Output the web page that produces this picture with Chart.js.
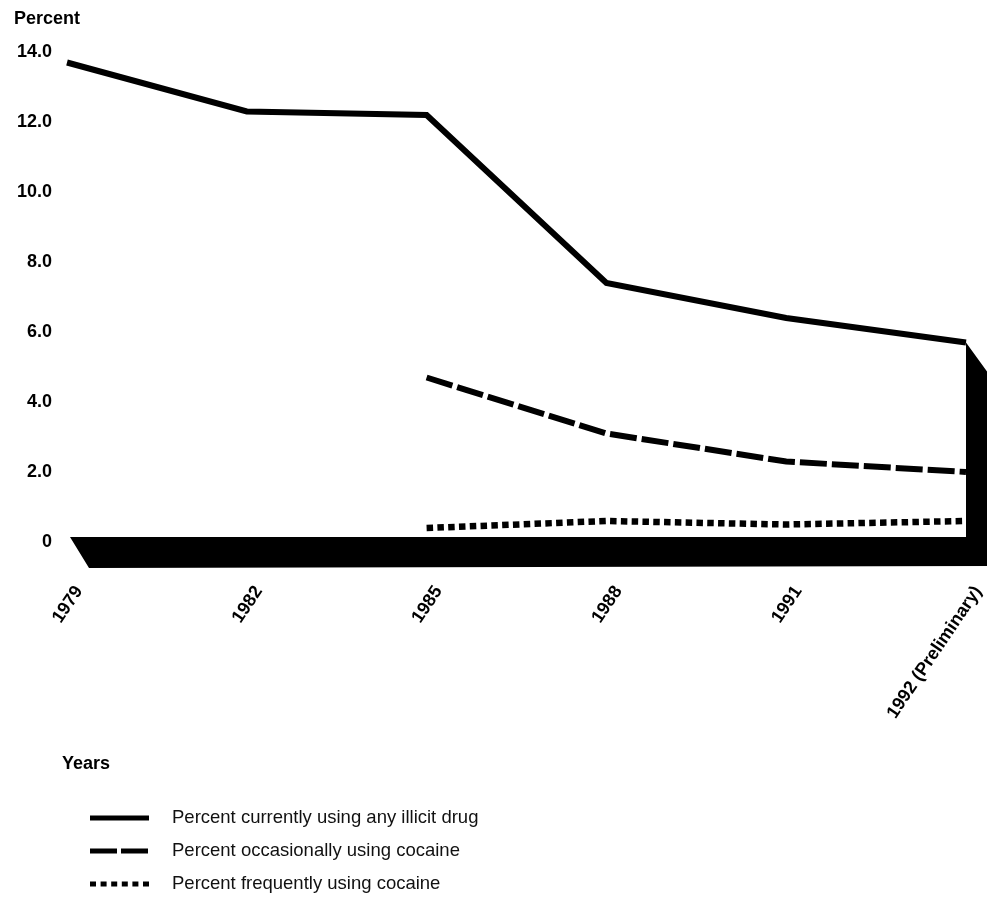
<!DOCTYPE html>
<html>
<head>
<meta charset="utf-8">
<script src="https://cdn.jsdelivr.net/npm/chart.js@4"></script>
<style>
  html, body { margin: 0; padding: 0; background: #fff; }
  #wrap { width: 999px; height: 898px; position: relative; }
</style>
</head>
<body>
<div id="wrap"><canvas id="c" width="999" height="898"></canvas></div>
<script>
// Survey years and past-month use rates (percent)
const years = ['1979', '1982', '1985', '1988', '1991', '1992 (Preliminary)'];
const anyIllicit = [13.7, 12.3, 12.2, 7.4, 6.4, 5.7];
const occasionalCocaine = [null, null, 4.7, 3.1, 2.3, 2.0];
const frequentCocaine = [null, null, 0.4, 0.6, 0.5, 0.6];
const seriesNames = [
  'Percent currently using any illicit drug',
  'Percent occasionally using cocaine',
  'Percent frequently using cocaine'
];
const yTicks = [0, 2, 4, 6, 8, 10, 12, 14];
const yTitle = 'Percent';
const xTitle = 'Years';

const INK = '#000';
const FONT = '"Liberation Sans", Arial, Helvetica, sans-serif';

// Black 3D floor under the plot, with a side wall under the last point of the main series
const floorPlugin = {
  id: 'floorWall',
  beforeDatasetsDraw(chart) {
    const { ctx, scales: { x, y } } = chart;
    const L = x.getPixelForValue(0) + 3;
    const R = x.getPixelForValue(years.length - 1);
    const y0 = y.getPixelForValue(0) - 5;
    const yEnd = y.getPixelForValue(anyIllicit[anyIllicit.length - 1]);
    const dx = 21, dy = 29;
    ctx.save();
    ctx.fillStyle = INK;
    ctx.beginPath();
    ctx.moveTo(L, y0);
    ctx.lineTo(R, y0);
    ctx.lineTo(R, yEnd);
    ctx.lineTo(R + dx, yEnd + dy);
    ctx.lineTo(R + dx, y0 + dy);
    ctx.lineTo(L + dx - 2, y0 + dy + 2);
    ctx.closePath();
    ctx.fill();
    ctx.restore();
  }
};

// Axis titles and the stacked legend at the bottom left
const notesPlugin = {
  id: 'notes',
  afterDraw(chart) {
    const { ctx } = chart;
    ctx.save();
    ctx.fillStyle = INK;
    ctx.textBaseline = 'middle';
    ctx.textAlign = 'left';
    ctx.font = 'bold 18px ' + FONT;
    ctx.fillText(yTitle, 14, 19);
    ctx.fillText(xTitle, 62, 764);

    const rows = [818, 851, 884];
    chart.data.datasets.forEach((ds, i) => {
      const yy = rows[i];
      ctx.save();
      ctx.strokeStyle = ds.borderColor;
      ctx.lineWidth = 5;
      ctx.setLineDash(ds.legendDash || []);
      ctx.beginPath();
      ctx.moveTo(90, yy);
      ctx.lineTo(149, yy);
      ctx.stroke();
      ctx.restore();
      ctx.font = '18.5px ' + FONT;
      ctx.fillStyle = '#111';
      ctx.fillText(ds.label, 172, yy);
    });
    ctx.restore();
  }
};

new Chart(document.getElementById('c'), {
  type: 'line',
  data: {
    labels: years,
    datasets: [
      {
        label: seriesNames[0], data: anyIllicit,
        borderColor: INK, borderWidth: 6, pointRadius: 0,
        borderJoinStyle: 'miter', legendDash: []
      },
      {
        label: seriesNames[1], data: occasionalCocaine,
        borderColor: INK, borderWidth: 6, borderDash: [27, 5], pointRadius: 0,
        legendDash: [27, 4]
      },
      {
        label: seriesNames[2], data: frequentCocaine,
        borderColor: INK, borderWidth: 6.5, borderDash: [6.5, 4.3], pointRadius: 0,
        legendDash: [6, 4.6]
      }
    ]
  },
  options: {
    responsive: false,
    animation: false,
    devicePixelRatio: 1,
    layout: { padding: { top: 52, right: 33, left: 0, bottom: 0 } },
    plugins: { legend: { display: false }, tooltip: { enabled: false }, title: { display: false } },
    scales: {
      x: {
        type: 'category',
        offset: false,
        grid: { display: false, drawTicks: false },
        border: { display: false },
        ticks: {
          autoSkip: false,
          color: INK,
          font: { family: FONT, size: 18, weight: 'bold' },
          minRotation: 56, maxRotation: 56,
          labelOffset: 12,
          padding: 40
        },
        afterFit(scale) {
          scale.height = 898 - 542;
          scale.paddingLeft = 0;
          scale.paddingRight = 0;
        }
      },
      y: {
        min: yTicks[0], max: yTicks[yTicks.length - 1],
        grid: { display: false, drawTicks: false },
        border: { display: false },
        afterBuildTicks(scale) { scale.ticks = yTicks.map(v => ({ value: v })); },
        ticks: {
          color: INK,
          padding: 15,
          font: { family: FONT, size: 18, weight: 'bold' },
          callback: v => (v === 0 ? '0' : v.toFixed(1))
        },
        afterFit(scale) { scale.width = 67; }
      }
    }
  },
  plugins: [floorPlugin, notesPlugin]
});
</script>
</body>
</html>
